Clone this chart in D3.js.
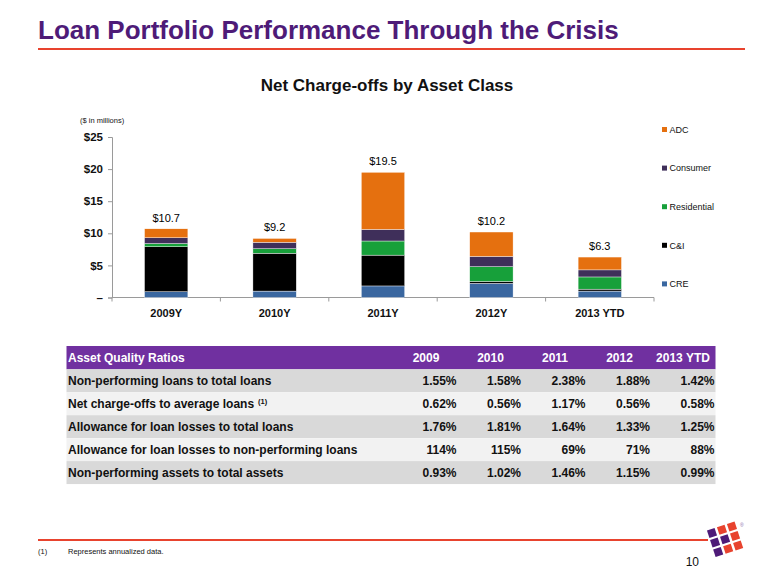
<!DOCTYPE html>
<html><head><meta charset="utf-8">
<script src="https://cdn.jsdelivr.net/npm/d3@7"></script>
<style>
html,body{margin:0;padding:0;background:#fff;}
svg{display:block;font-family:"Liberation Sans",Arial,sans-serif;}
</style></head><body>
<svg id="c" width="780" height="585"></svg>
<script>
// ---- data ----
const categories = ["2009Y", "2010Y", "2011Y", "2012Y", "2013 YTD"];
const seriesNames = ["CRE", "C&I", "Residential", "Consumer", "ADC"];
const CRE         = [0.9, 1.0, 1.8, 2.2, 1.0];
const CandI       = [7.0, 5.9, 4.8, 0.3, 0.3];
const Residential = [0.5, 0.7, 2.2, 2.3, 1.9];
const Consumer    = [0.9, 1.0, 1.8, 1.6, 1.1];
const ADC         = [1.4, 0.6, 8.9, 3.8, 2.0];
const totalLabels = ["$10.7", "$9.2", "$19.5", "$10.2", "$6.3"];
const yTicks = [0, 5, 10, 15, 20, 25];
const yTickLabels = ["–", "$5", "$10", "$15", "$20", "$25"];

const tableHeader = ["Asset Quality Ratios", "2009", "2010", "2011", "2012", "2013 YTD"];
const rowLabels = ["Non-performing loans to total loans", "Net charge-offs to average loans", "Allowance for loan losses to total loans", "Allowance for loan losses to non-performing loans", "Non-performing assets to total assets"];
const rowNotes = ["", "(1)", "", "", ""];
const row1 = ["1.55%", "1.58%", "2.38%", "1.88%", "1.42%"];
const row2 = ["0.62%", "0.56%", "1.17%", "0.56%", "0.58%"];
const row3 = ["1.76%", "1.81%", "1.64%", "1.33%", "1.25%"];
const row4 = ["114%", "115%", "69%", "71%", "88%"];
const row5 = ["0.93%", "1.02%", "1.46%", "1.15%", "0.99%"];

(function(){
// ---- styles ----
const colors = {"CRE":"#3A67A0","C&I":"#000000","Residential":"#17A03A","Consumer":"#3F2F5A","ADC":"#E5700F"};
const purple = "#4E1B78", red = "#E8432E";

const svg = d3.select("#c");
svg.append("rect").attr("width",780).attr("height",585).attr("fill","#fff");

// page title
svg.append("text").attr("x",38).attr("y",39).attr("fill",purple)
  .attr("font-size",26).attr("font-weight","bold")
  .text("Loan Portfolio Performance Through the Crisis");
svg.append("line").attr("x1",38).attr("x2",745).attr("y1",49).attr("y2",49)
  .attr("stroke",red).attr("stroke-width",2);

// chart title
svg.append("text").attr("x",387).attr("y",91).attr("text-anchor","middle")
  .attr("font-size",17).attr("font-weight","bold").attr("fill","#111")
  .text("Net Charge-offs by Asset Class");
svg.append("text").attr("x",80).attr("y",123).attr("font-size",7.5).attr("fill","#111")
  .text("($ in millions)");

// scales
const x = d3.scaleBand().domain(categories).range([112,654]).paddingInner(0.6).paddingOuter(0.3);
const y = d3.scaleLinear().domain([0,25]).range([297.5,137]);

const data = categories.map((c,i)=>({cat:c,"CRE":CRE[i],"C&I":CandI[i],"Residential":Residential[i],"Consumer":Consumer[i],"ADC":ADC[i]}));
const stacked = d3.stack().keys(seriesNames)(data);

const g = svg.append("g");
// y axis
const yAxis = d3.axisLeft(y).tickValues(yTicks).tickFormat((d,i)=>yTickLabels[i]).tickSize(4).tickPadding(5);
const ya = g.append("g").attr("transform","translate(112,0)").call(yAxis);
ya.select(".domain").attr("stroke","#9a9a9a");
ya.selectAll(".tick line").attr("stroke","#9a9a9a");
ya.selectAll(".tick text").attr("font-size",11.5).attr("font-weight","bold").attr("fill","#111")
  .attr("font-family","Liberation Sans, Arial, sans-serif");

// x axis
const xa = g.append("g").attr("transform","translate(0,297.5)");
xa.append("line").attr("x1",112).attr("x2",654).attr("stroke","#9a9a9a");
const bounds = categories.map((c,i)=>112 + x.step()*(i+1));
xa.selectAll("line.tk").data([112].concat(bounds)).join("line").attr("class","tk")
  .attr("x1",d=>d).attr("x2",d=>d).attr("y1",0).attr("y2",4).attr("stroke","#9a9a9a");
xa.selectAll("text").data(categories).join("text")
  .attr("x",d=>x(d)+x.bandwidth()/2).attr("y",19).attr("text-anchor","middle")
  .attr("font-size",11).attr("font-weight","bold").attr("fill","#111").text(d=>d);

// bars
g.selectAll("g.layer").data(stacked).join("g").attr("class","layer")
  .attr("fill",d=>colors[d.key])
  .selectAll("rect").data(d=>d).join("rect")
  .attr("x",d=>x(d.data.cat)).attr("width",x.bandwidth())
  .attr("y",d=>y(d[1])).attr("height",d=>y(d[0])-y(d[1]))
  .attr("stroke","#fff").attr("stroke-width",0.4);

// totals
const topLayer = stacked[stacked.length-1];
g.selectAll("text.tot").data(topLayer).join("text").attr("class","tot")
  .attr("x",d=>x(d.data.cat)+x.bandwidth()/2).attr("y",d=>y(d[1])-7)
  .attr("text-anchor","middle").attr("font-size",11).attr("fill","#000")
  .text((d,i)=>totalLabels[i]);

// legend (top to bottom: ADC ... CRE)
const legendOrder = seriesNames.slice().reverse();
const lg = svg.append("g");
legendOrder.forEach((k,i)=>{
  const ly = 129.5 + i*38.6;
  lg.append("rect").attr("x",662).attr("y",ly-2.5).attr("width",5).attr("height",5).attr("fill",colors[k]);
  lg.append("text").attr("x",669.5).attr("y",ly+3.3).attr("font-size",9).attr("fill","#111").text(k);
});

// table
const rows = [row1,row2,row3,row4,row5];
const tx0 = 66.5, tx1 = 715.5;
const colRight = [456.5, 521, 585.5, 650, 714.5];
const tbl = svg.append("g");
tbl.append("rect").attr("x",tx0).attr("y",346).attr("width",tx1-tx0).attr("height",23.3).attr("fill","#7030A0");
tableHeader.forEach((h,i)=>{
  if(i===0){
    tbl.append("text").attr("x",68).attr("y",362).attr("font-size",12).attr("font-weight","bold").attr("fill","#fff").text(h);
  } else {
    const cx = i===5 ? 683 : colRight[i-1]-30.5;
    tbl.append("text").attr("x",cx).attr("y",362).attr("text-anchor","middle").attr("font-size",12).attr("font-weight","bold").attr("fill","#fff").text(h);
  }
});
const rowH = 22.95;
rows.forEach((r,ri)=>{
  const ry = 369.3 + ri*rowH;
  tbl.append("rect").attr("x",tx0).attr("y",ry).attr("width",tx1-tx0).attr("height",rowH)
    .attr("fill", ri%2===0 ? "#D9D9D9" : "#F2F2F2");
  const t = tbl.append("text").attr("x",68).attr("y",ry+15.5).attr("font-size",12).attr("font-weight","bold").attr("fill","#111").text(rowLabels[ri]);
  if(rowNotes[ri]){
    t.append("tspan").attr("dx",4).attr("dy",-4).attr("font-size",7.5).text(rowNotes[ri]);
  }
  r.forEach((v,ci)=>{
    tbl.append("text").attr("x",colRight[ci]).attr("y",ry+15.5).attr("text-anchor","end")
      .attr("font-size",12).attr("font-weight","bold").attr("fill","#111").text(v);
  });
});

// footer
svg.append("line").attr("x1",38).attr("x2",708).attr("y1",540).attr("y2",540).attr("stroke",red).attr("stroke-width",2);
svg.append("text").attr("x",38).attr("y",554).attr("font-size",7.5).attr("fill","#111").text("(1)");
svg.append("text").attr("x",68).attr("y",554).attr("font-size",7.5).attr("fill","#111").text("Represents annualized data.");
svg.append("text").attr("x",699).attr("y",566).attr("text-anchor","end").attr("font-size",12).attr("fill","#111").text("10");

// logo
const logoPattern = [["P","R","R"],["P","P","R"],["P","R","R"]];
const lgo = svg.append("g").attr("transform","translate(712,533) rotate(-18)");
logoPattern.forEach((row,ri)=>row.forEach((c,ci)=>{
  lgo.append("rect").attr("x",ci*10.5-4).attr("y",ri*10-4).attr("width",8).attr("height",8)
    .attr("fill", c==="P" ? purple : red);
}));
svg.append("text").attr("x",740).attr("y",527).attr("font-size",5).attr("fill","#8a6aa8").text("®");
})();
</script>
</body></html>
